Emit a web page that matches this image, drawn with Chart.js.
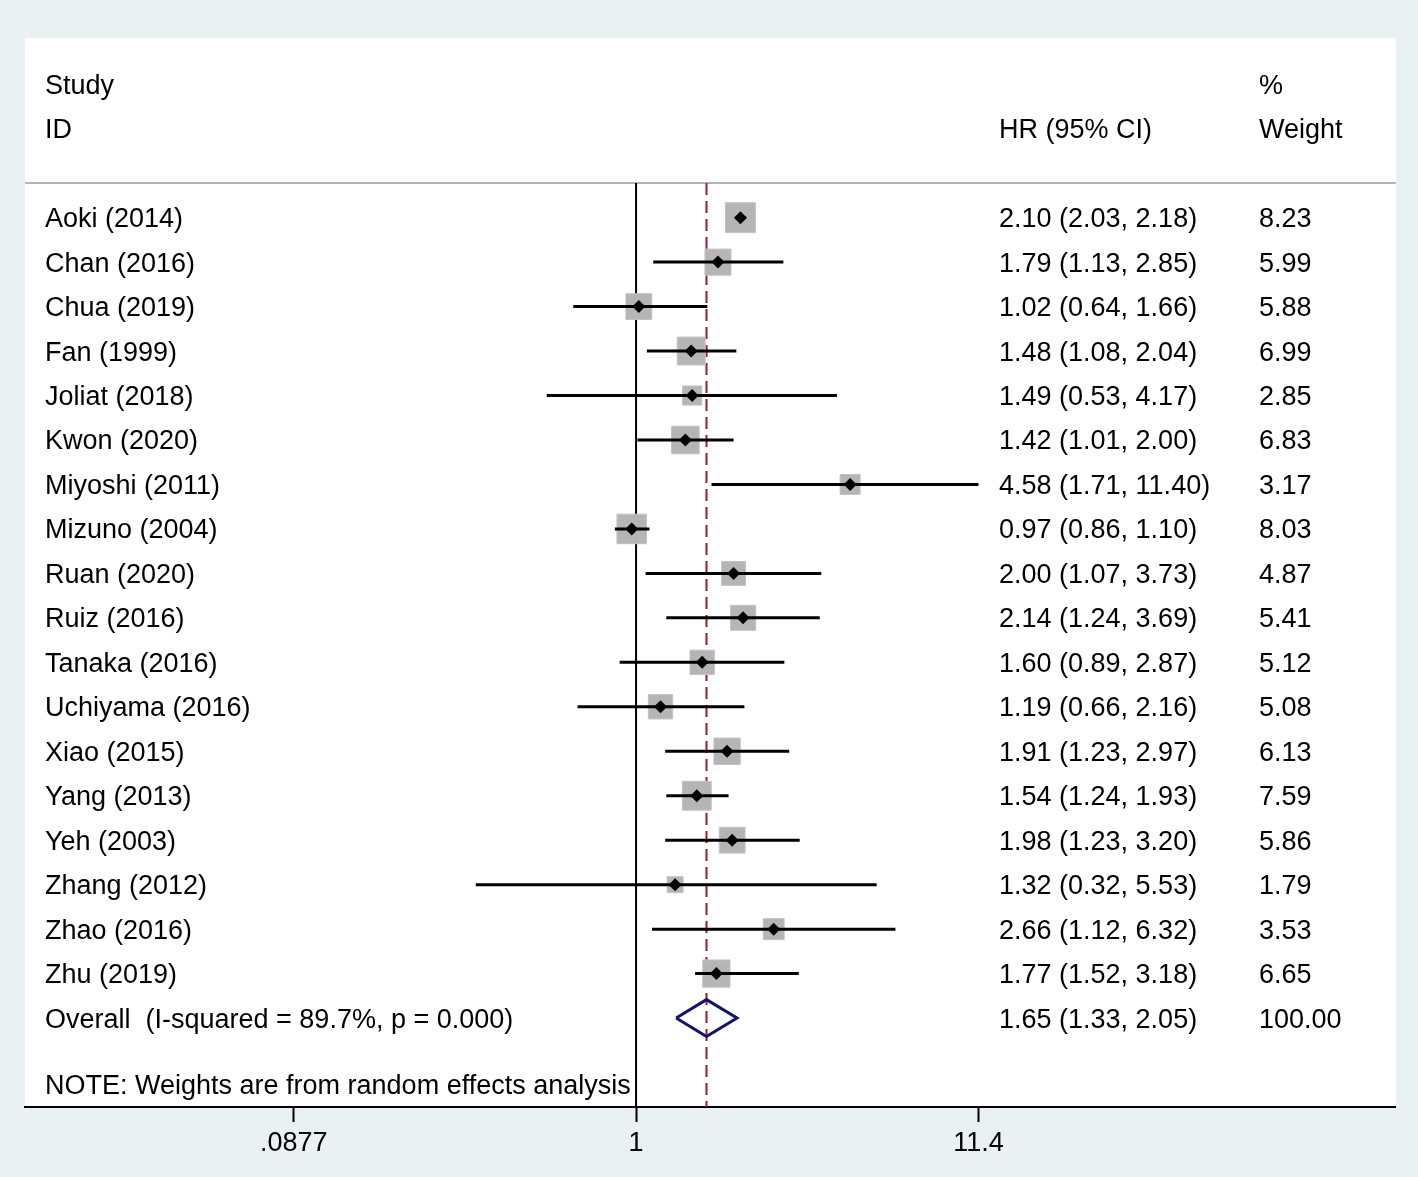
<!DOCTYPE html>
<html>
<head>
<meta charset="utf-8">
<script src="https://cdn.jsdelivr.net/npm/chart.js@4.4.1/dist/chart.umd.min.js"></script>
<style>
  html, body { margin: 0; padding: 0; background: #e9f1f3; }
  #wrap { width: 1418px; height: 1177px; position: relative; }
</style>
</head>
<body>
<div id="wrap"><canvas id="c"></canvas></div>
<script>
// ---- data ----
const studies = ["Aoki (2014)","Chan (2016)","Chua (2019)","Fan (1999)","Joliat (2018)","Kwon (2020)","Miyoshi (2011)","Mizuno (2004)","Ruan (2020)","Ruiz (2016)","Tanaka (2016)","Uchiyama (2016)","Xiao (2015)","Yang (2013)","Yeh (2003)","Zhang (2012)","Zhao (2016)","Zhu (2019)"];
const hr    = [2.10,1.79,1.02,1.48,1.49,1.42,4.58,0.97,2.00,2.14,1.60,1.19,1.91,1.54,1.98,1.32,2.66,1.77];
const lower = [2.03,1.13,0.64,1.08,0.53,1.01,1.71,0.86,1.07,1.24,0.89,0.66,1.23,1.24,1.23,0.32,1.12,1.52];
const upper = [2.18,2.85,1.66,2.04,4.17,2.00,11.40,1.10,3.73,3.69,2.87,2.16,2.97,1.93,3.20,5.53,6.32,3.18];
const weights = [8.23,5.99,5.88,6.99,2.85,6.83,3.17,8.03,4.87,5.41,5.12,5.08,6.13,7.59,5.86,1.79,3.53,6.65];
const overallLabel = "Overall  (I-squared = 89.7%, p = 0.000)";
const overall = { hr: 1.65, lower: 1.33, upper: 2.05, weight: "100.00" };
const noteText = "NOTE: Weights are from random effects analysis";
const tickValues = [0.0877, 1, 11.4];
const tickLabels = [".0877", "1", "11.4"];

// ---- layout constants ----
const X_MIN = 0.01299, X_MAX = 221.6;
const Y_MIN = -4.04, Y_MAX = 20;
const SEP_ROW = -0.78;
const OVERALL_ROW = studies.length;
const NOTE_ROW = studies.length + 1.5;
const FONT = '27px "Liberation Sans", Arial, sans-serif';
const TEXT_DY = 2;

const fmt = v => v.toFixed(2);

// CI segments with gaps
const ciData = [];
studies.forEach((s, i) => {
  ciData.push({x: lower[i], y: i}, {x: upper[i], y: i}, {x: null, y: null});
});
const pointData = studies.map((s, i) => ({x: hr[i], y: i}));
const boxSizes = weights.map(w => (3.8 + 9.1 * Math.sqrt(w)) / Math.SQRT2);
const DH = 0.415;
const diamondData = [
  {x: overall.lower, y: OVERALL_ROW},
  {x: overall.hr, y: OVERALL_ROW - DH},
  {x: overall.upper, y: OVERALL_ROW},
  {x: overall.hr, y: OVERALL_ROW + DH},
  {x: overall.lower, y: OVERALL_ROW}
];

const textPlugin = {
  id: 'forestText',
  beforeDraw(chart) {
    const {ctx, chartArea: a} = chart;
    ctx.save();
    ctx.fillStyle = '#ffffff';
    ctx.fillRect(a.left, a.top, a.right - a.left, a.bottom - a.top);
    ctx.restore();
  },
  beforeDatasetsDraw(chart) {
    const {ctx, chartArea: a, scales: {y}} = chart;
    ctx.save();
    ctx.strokeStyle = '#b4b4b4';
    ctx.lineWidth = 2;
    const ys = y.getPixelForValue(SEP_ROW);
    ctx.beginPath();
    ctx.moveTo(a.left, ys);
    ctx.lineTo(a.right, ys);
    ctx.stroke();
    ctx.restore();
  },
  afterDraw(chart) {
    const {ctx, scales: {y}} = chart;
    ctx.save();
    ctx.font = FONT;
    ctx.fillStyle = '#000000';
    ctx.textBaseline = 'middle';
    ctx.textAlign = 'left';
    const XL = 45, XHR = 999, XW = 1259;
    const ry = r => y.getPixelForValue(r) + TEXT_DY;
    ctx.fillText('Study', XL, ry(-3));
    ctx.fillText('ID', XL, ry(-2));
    ctx.fillText('HR (95% CI)', XHR, ry(-2));
    ctx.fillText('%', XW, ry(-3));
    ctx.fillText('Weight', XW, ry(-2));
    studies.forEach((s, i) => {
      const py = ry(i);
      ctx.fillText(s, XL, py);
      ctx.fillText(fmt(hr[i]) + ' (' + fmt(lower[i]) + ', ' + fmt(upper[i]) + ')', XHR, py);
      ctx.fillText(fmt(weights[i]), XW, py);
    });
    const po = ry(OVERALL_ROW);
    ctx.fillText(overallLabel, XL, po);
    ctx.fillText(fmt(overall.hr) + ' (' + fmt(overall.lower) + ', ' + fmt(overall.upper) + ')', XHR, po);
    ctx.fillText(overall.weight, XW, po);
    ctx.fillText(noteText, XL, ry(NOTE_ROW));
    ctx.restore();
  }
};

new Chart(document.getElementById('c'), {
  type: 'scatter',
  data: {
    datasets: [
      { // point estimates
        data: pointData, order: 1,
        pointStyle: 'rectRot', pointRadius: 6.5, pointHoverRadius: 6.5,
        backgroundColor: '#000000', borderColor: '#000000', borderWidth: 0
      },
      { // CI lines
        data: ciData, order: 2, showLine: true, spanGaps: false,
        borderColor: '#000000', borderWidth: 3, pointRadius: 0, borderCapStyle: 'butt'
      },
      { // overall diamond
        data: diamondData, order: 3, showLine: true,
        borderColor: '#14146c', borderWidth: 3, pointRadius: 0, fill: false,
        borderJoinStyle: 'miter', tension: 0
      },
      { // weight boxes
        data: pointData, order: 4,
        pointStyle: 'rect', pointRadius: boxSizes, pointHoverRadius: boxSizes,
        backgroundColor: '#b5b5b5', borderColor: '#c2c2c2', borderWidth: 1
      },
      { // overall effect dashed line
        data: [{x: overall.hr, y: SEP_ROW}, {x: overall.hr, y: Y_MAX}], order: 5, showLine: true,
        borderColor: '#9b1b26', borderWidth: 2, borderDash: [12, 6], pointRadius: 0
      },
      { // null line
        data: [{x: 1, y: SEP_ROW}, {x: 1, y: Y_MAX}], order: 6, showLine: true,
        borderColor: '#000000', borderWidth: 2, pointRadius: 0
      }
    ]
  },
  options: {
    responsive: true,
    maintainAspectRatio: false,
    animation: false,
    devicePixelRatio: 1,
    layout: { padding: { left: 25, right: 18, top: 38, bottom: 0 } },
    plugins: { legend: { display: false }, tooltip: { enabled: false } },
    events: [],
    scales: {
      x: {
        type: 'logarithmic',
        position: 'bottom',
        min: X_MIN, max: X_MAX,
        afterBuildTicks(scale) { scale.ticks = tickValues.map(v => ({value: v})); },
        afterFit(scale) { scale.height = 70; },
        grid: { drawOnChartArea: false, drawTicks: true, tickLength: 15, tickWidth: 2, tickColor: '#000000' },
        border: { display: true, color: '#000000', width: 2 },
        ticks: {
          autoSkip: false, maxRotation: 0, minRotation: 0, padding: 5,
          color: '#000000',
          font: { family: '"Liberation Sans", Arial, sans-serif', size: 27 },
          callback: (v, i) => tickLabels[i]
        }
      },
      y: {
        type: 'linear', reverse: true, min: Y_MIN, max: Y_MAX, display: false
      }
    }
  },
  plugins: [textPlugin]
});
</script>
</body>
</html>
